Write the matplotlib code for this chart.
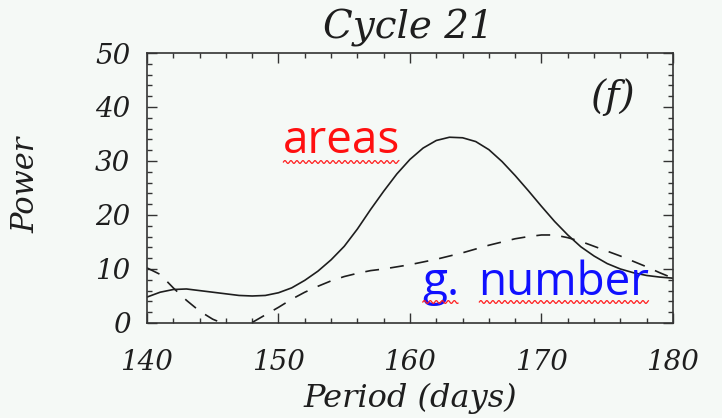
import numpy as np
import matplotlib
matplotlib.use("Agg")
import matplotlib.pyplot as plt
from matplotlib.ticker import MultipleLocator
from matplotlib.lines import Line2D

# periodogram power, cycle 21 (1-day steps from 140 to 180 days)
period = np.arange(140, 181)
areas_power = [4.8, 5.7, 6.2, 6.3, 6.0, 5.7, 5.4, 5.1, 5.0, 5.1,
               5.6, 6.5, 7.9, 9.6, 11.7, 14.2, 17.4, 21.0, 24.4, 27.6,
               30.3, 32.4, 33.8, 34.4, 34.3, 33.6, 32.1, 29.9, 27.3, 24.5,
               21.6, 18.8, 16.3, 14.1, 12.4, 11.0, 10.0, 9.3, 8.8, 8.5,
               8.3]
gnum_power = [10.2, 9.0, 6.5, 4.2, 2.2, 0.7, -0.3, -0.6, 0.1, 1.5,
              2.9, 4.4, 5.7, 6.8, 7.8, 8.6, 9.2, 9.7, 10.0, 10.4,
              10.8, 11.3, 11.8, 12.4, 13.0, 13.7, 14.4, 15.0, 15.6, 16.0,
              16.3, 16.3, 15.8, 15.1, 14.2, 13.3, 12.4, 11.4, 10.4, 9.3,
              8.3]

bg = "#f5f9f6"
ink = "#1e1e1e"
serif = dict(family="DejaVu Serif", style="italic")

plt.rcParams["lines.scale_dashes"] = False

fig = plt.figure(figsize=(7.22, 4.18), dpi=100, facecolor=bg)
ax = fig.add_axes([0.2036, 0.2273, 0.7285, 0.6459], facecolor=bg)

ax.plot(period, areas_power, color=ink, lw=1.2)
ax.plot(period, gnum_power, color=ink, lw=1.2, dashes=(10, 8))

ax.set_xlim(140, 180)
ax.set_ylim(0, 50)
ax.xaxis.set_major_locator(MultipleLocator(10))
ax.xaxis.set_minor_locator(MultipleLocator(2))
ax.yaxis.set_major_locator(MultipleLocator(10))
ax.yaxis.set_minor_locator(MultipleLocator(2))

for s in ax.spines.values():
    s.set_color("#333333")
    s.set_linewidth(1.2)
ax.tick_params(which="both", direction="in", top=True, right=True,
               color="#333333", width=1.0)
ax.tick_params(which="major", length=7)
ax.tick_params(which="minor", length=3.5)
ax.tick_params(axis="x", which="major", pad=19)
ax.tick_params(axis="y", which="major", pad=12)
for lab in ax.get_xticklabels() + ax.get_yticklabels():
    lab.set_fontfamily("DejaVu Serif")
    lab.set_fontstyle("italic")
    lab.set_fontsize(20)
    lab.set_color(ink)

ax.set_xlabel("Period (days)", fontsize=23, color=ink, **serif)
ax.xaxis.set_label_coords(0.5, -0.222)
ax.set_ylabel("Power", fontsize=22, color=ink, **serif)
ax.yaxis.set_label_coords(-0.2, 0.51)
fig.text(0.565, 0.932, "Cycle 21", ha="center", va="center",
         fontsize=28, color=ink, **serif)
ax.text(0.886, 0.837, "(f)", transform=ax.transAxes, ha="center",
        va="center", fontsize=28, color=ink, **serif)

t_areas = ax.text(150.3, 31.5, "areas", color="#ff1010", fontsize=33,
                  family="Open Sans", ha="left", va="baseline")
t_g = ax.text(160.9, 5.2, "g.", color="#1010ff", fontsize=33,
              family="Open Sans", ha="left", va="baseline")
t_num = ax.text(165.2, 5.2, "number", color="#1010ff", fontsize=33,
                family="Open Sans", ha="left", va="baseline")

# red wavy underline below each word
fig.canvas.draw()
r = fig.canvas.get_renderer()
H = fig.bbox.height
for t in (t_areas, t_g, t_num):
    bb = t.get_window_extent(r)
    x0, x1 = bb.x0 + 1, bb.x1 - 1
    y0 = H - (162 if t is t_areas else 302)
    xs = np.linspace(x0, x1, int((x1 - x0) * 2))
    ys = y0 + 1.4 * np.sin((xs - x0) * 2 * np.pi / 6.0)
    fig.add_artist(Line2D(xs / fig.bbox.width, ys / H, color="#ff2020",
                          lw=0.9, transform=fig.transFigure))

fig.savefig("out.png", dpi=100, facecolor=bg)
